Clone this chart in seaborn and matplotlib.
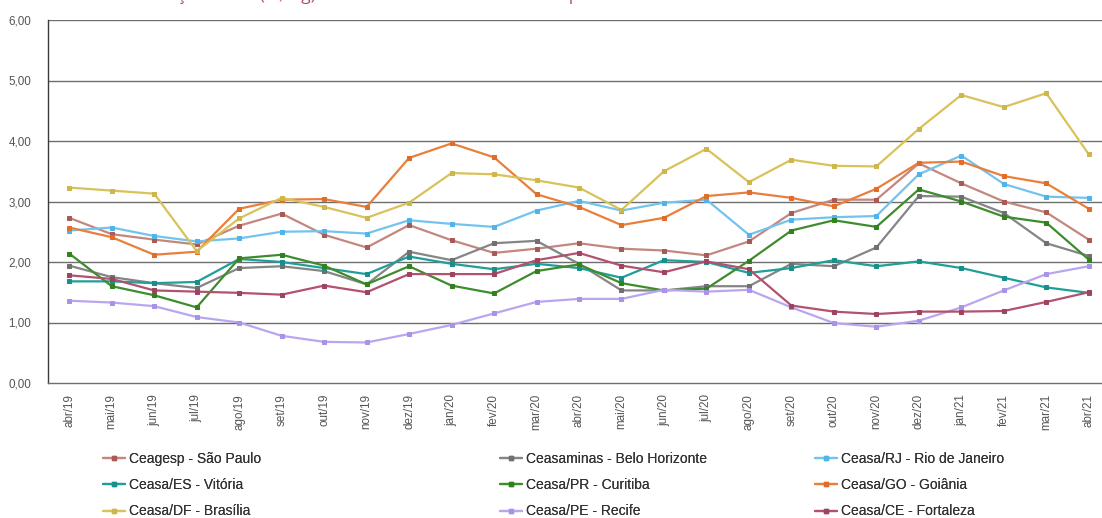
import matplotlib
matplotlib.use("Agg")
import matplotlib.pyplot as plt
from matplotlib.lines import Line2D
from matplotlib.ticker import FixedLocator, FuncFormatter
import seaborn as sns
import numpy as np

# Monthly average price (R$/kg) per wholesale market
months = ["abr/19", "mai/19", "jun/19", "jul/19", "ago/19", "set/19", "out/19", "nov/19",
          "dez/19", "jan/20", "fev/20", "mar/20", "abr/20", "mai/20", "jun/20", "jul/20",
          "ago/20", "set/20", "out/20", "nov/20", "dez/20", "jan/21", "fev/21", "mar/21", "abr/21"]

sao_paulo = [2.73, 2.46, 2.37, 2.29, 2.60, 2.80, 2.45, 2.24, 2.61, 2.36, 2.15, 2.22, 2.31,
             2.22, 2.19, 2.11, 2.34, 2.81, 3.03, 3.03, 3.63, 3.30, 3.00, 2.82, 2.37]
belo_horizonte = [1.94, 1.75, 1.65, 1.57, 1.90, 1.93, 1.85, 1.63, 2.17, 2.03, 2.31, 2.35, 1.97,
                  1.53, 1.53, 1.60, 1.60, 1.97, 1.93, 2.24, 3.09, 3.08, 2.81, 2.31, 2.10]
rio_de_janeiro = [2.52, 2.57, 2.43, 2.34, 2.39, 2.50, 2.51, 2.47, 2.69, 2.63, 2.58, 2.85, 3.01,
                  2.85, 2.98, 3.03, 2.45, 2.70, 2.74, 2.76, 3.45, 3.76, 3.29, 3.08, 3.06]
vitoria = [1.68, 1.68, 1.65, 1.67, 2.05, 2.00, 1.90, 1.80, 2.09, 1.97, 1.88, 1.97, 1.90,
           1.74, 2.03, 2.00, 1.82, 1.90, 2.03, 1.93, 2.01, 1.90, 1.74, 1.58, 1.49]
curitiba = [2.14, 1.60, 1.45, 1.25, 2.06, 2.12, 1.94, 1.63, 1.93, 1.61, 1.48, 1.85, 1.96,
            1.65, 1.53, 1.56, 2.02, 2.52, 2.69, 2.58, 3.20, 3.00, 2.75, 2.65, 2.04]
goiania = [2.57, 2.41, 2.12, 2.17, 2.88, 3.03, 3.04, 2.91, 3.72, 3.96, 3.73, 3.12, 2.91,
           2.61, 2.73, 3.09, 3.15, 3.06, 2.92, 3.21, 3.64, 3.66, 3.42, 3.30, 2.88]
brasilia = [3.23, 3.18, 3.13, 2.18, 2.72, 3.06, 2.91, 2.73, 2.98, 3.47, 3.45, 3.35, 3.23,
            2.86, 3.50, 3.87, 3.32, 3.69, 3.59, 3.58, 4.20, 4.76, 4.56, 4.79, 3.78]
recife = [1.36, 1.33, 1.27, 1.09, 1.00, 0.78, 0.68, 0.67, 0.81, 0.96, 1.15, 1.34, 1.39,
          1.39, 1.54, 1.51, 1.54, 1.25, 0.99, 0.93, 1.03, 1.25, 1.53, 1.80, 1.93]
fortaleza = [1.78, 1.72, 1.53, 1.51, 1.49, 1.46, 1.61, 1.50, 1.80, 1.80, 1.80, 2.03, 2.15,
             1.94, 1.83, 2.01, 1.88, 1.28, 1.18, 1.14, 1.18, 1.18, 1.19, 1.34, 1.50]

series_names = ["Ceagesp - São Paulo", "Ceasaminas - Belo Horizonte", "Ceasa/RJ - Rio de Janeiro",
                "Ceasa/ES - Vitória", "Ceasa/PR - Curitiba", "Ceasa/GO - Goiânia",
                "Ceasa/DF - Brasília", "Ceasa/PE - Recife", "Ceasa/CE - Fortaleza"]
series_values = [sao_paulo, belo_horizonte, rio_de_janeiro, vitoria, curitiba, goiania,
                 brasilia, recife, fortaleza]
series_colors = ["#c4877f", "#858585", "#72c4ef", "#1f9e9a", "#3f8c2e", "#e97f3c",
                 "#d9c25a", "#baa6ef", "#b2526e"]
marker_colors = ["#a85a55", "#707070", "#4fb4ea", "#198f8b", "#33801f", "#e06d2a",
                 "#cfb64a", "#a993e8", "#9d4460"]

sns.set_style("white")
plt.rcParams["font.family"] = ["Liberation Sans", "DejaVu Sans"]

W, H = 1102, 518
fig = plt.figure(figsize=(W / 100, H / 100), dpi=100)
ax_left, ax_right, ax_top, ax_bottom = 48, 1110, 20, 383
ax = fig.add_axes([ax_left / W, 1 - ax_bottom / H, (ax_right - ax_left) / W, (ax_bottom - ax_top) / H])

x = np.arange(len(months))
for name, vals, col, mcol in zip(series_names, series_values, series_colors, marker_colors):
    sns.lineplot(x=x, y=vals, ax=ax, color=col, linewidth=1.6, marker="s", markersize=3.4,
                 markerfacecolor=mcol, markeredgecolor=mcol, legend=False, zorder=3)

ax.set_xlim(-0.5, len(months) - 0.5)
ax.set_ylim(0, 6)
ax.set_xlabel("")
ax.set_ylabel("")

# horizontal gridlines
ax.yaxis.set_major_locator(FixedLocator([0, 1, 2, 3, 4, 5, 6]))
ax.yaxis.set_major_formatter(FuncFormatter(lambda v, p: f"{v:.2f}".replace(".", ",")))
for yv in [1, 2, 3, 4, 5, 6]:
    ax.axhline(yv, color="#6e6e6e", linewidth=1.0, zorder=1)

# category ticks between labels, labels at category centres
ax.xaxis.set_major_locator(FixedLocator(np.arange(-0.5, len(months), 1.0)))
ax.xaxis.set_major_formatter(FuncFormatter(lambda v, p: ""))
ax.xaxis.set_minor_locator(FixedLocator(x))
ax.set_xticklabels(months, minor=True, rotation=90, fontsize=8.4, color="#555555")
ax.tick_params(axis="x", which="major", length=5, width=0.8, color="#9a9a9a", direction="out")
ax.tick_params(axis="x", which="minor", length=0, pad=8)
ax.tick_params(axis="y", which="major", length=4, width=0.8, color="#9a9a9a",
               labelsize=8.4, labelcolor="#555555", pad=8)

for side in ["top", "right"]:
    ax.spines[side].set_visible(False)
ax.spines["left"].set_color("#3a3a3a")
ax.spines["left"].set_linewidth(1.0)
ax.spines["bottom"].set_color("#6e6e6e")
ax.spines["bottom"].set_linewidth(1.0)

# legend in three columns placed individually
columns = [[0, 3, 6], [1, 4, 7], [2, 5, 8]]
col_x = [103, 500, 815]
for cx, idxs in zip(col_x, columns):
    handles = [Line2D([0], [0], color=series_colors[i], linewidth=1.6, marker="s", markersize=2.5,
                      markerfacecolor=marker_colors[i], markeredgecolor=marker_colors[i])
               for i in idxs]
    labels = [series_names[i] for i in idxs]
    leg = fig.legend(handles, labels, loc="upper left", bbox_to_anchor=(cx / W, 1 - 452 / H),
                     frameon=False, fontsize=10, handlelength=1.6, handletextpad=0.3,
                     labelspacing=0.88, borderpad=0, borderaxespad=0, labelcolor="#333333")
    fig.add_artist(leg)

# chart title, mostly above the visible area
fig.text(133 / W, 1 + 0.3 / H, "Evolução anual (R$/kg) - média mensal nas Ceasas do país",
         fontsize=12.5, color="#b0506e", ha="left", va="baseline", family=["Open Sans", "DejaVu Sans"])

fig.savefig("out.png", dpi=100)
